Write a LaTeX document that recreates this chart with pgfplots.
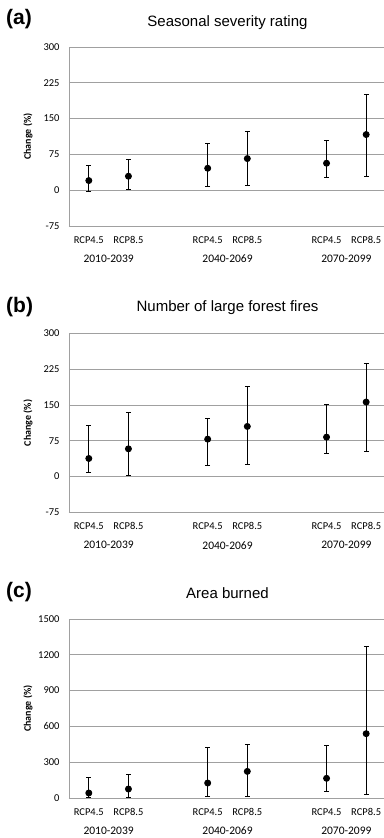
\documentclass[border=0pt]{standalone}
\usepackage{pgfplots}
\pgfplotsset{compat=1.18}
\usepackage{pgfplotstable}
\usepackage{fontspec}
\setmainfont{Carlito}
\newfontfamily\arial{Liberation Sans}
\definecolor{gridgray}{RGB}{160,160,160}

% x  y  ep  em
\pgfplotstableread{
x y ep em
0 20.2 32.2 23.0
1 29.3 34.2 28.6
3 46.0 52.4 39.0
4 66.3 57.2 55.8
6 56.5 48.2 30.7
7 116.6 83.0 88.0
}\dataA
\pgfplotstableread{
x y ep em
0 37.8 69.2 29.4
1 58.0 76.3 55.9
3 78.3 43.4 54.5
4 104.9 83.9 79.0
6 82.5 67.8 34.9
7 156.0 81.8 102.9
}\dataB
\pgfplotstableread{
x y ep em
0 41.9 134 36.3
1 75.4 126 69.8
3 125.7 301 114.7
4 223 227 212
6 165 276 109
7 539 735 508
}\dataC

\pgfplotsset{
  panel/.style={
    scale only axis,
    width=317pt, height=179pt,
    xmin=-0.5, xmax=7.5,
    axis y line*=left, axis x line*=bottom,
    axis line style={gridgray, line width=0.9pt},
    ymajorgrids, grid style={gridgray, line width=0.8pt},
    xtick={0,1,3,4,6,7},
    xticklabels={RCP4.5,RCP8.5,RCP4.5,RCP8.5,RCP4.5,RCP8.5},
    major tick length=0pt,
    tick style={draw=none},
    ticklabel style={font=\fontsize{10.5}{12}\selectfont},
    xticklabel style={anchor=north, text height=7pt, text depth=1pt, yshift=-7pt},
    yticklabel style={xshift=-6pt},
    /pgf/number format/assume math mode=true,
    /pgf/number format/set thousands separator={},
    ylabel={Change (\%)},
    ylabel style={font=\fontsize{10}{12}\selectfont\bfseries, at={(rel axis cs:0,0.5)}, anchor=south, yshift=33pt},
    clip=false,
  },
  ebar/.style={
    black, line width=0.9pt, mark=*, mark size=3pt, only marks,
    mark options={fill=black, draw=black},
    error bars/.cd, y dir=both, y explicit,
    error bar style={line width=0.9pt, black},
    error mark options={rotate=90, mark size=2.4pt, line width=0.9pt, black},
  },
}

\begin{document}
\begin{tikzpicture}
\begin{axis}[panel, at={(69pt,-226pt)}, anchor=south west,
  ymin=-75, ymax=300, ytick={-75,0,75,150,225,300}]
\addplot[ebar] table[x=x, y=y, y error plus=ep, y error minus=em] {\dataA};
\node[font=\fontsize{11.5}{13}\selectfont] at ({axis cs:0.5,0}|-{rel axis cs:0,0}) [yshift=-33pt] {2010-2039};
\node[font=\fontsize{11.5}{13}\selectfont] at ({axis cs:3.5,0}|-{rel axis cs:0,0}) [yshift=-33pt] {2040-2069};
\node[font=\fontsize{11.5}{13}\selectfont] at ({axis cs:6.5,0}|-{rel axis cs:0,0}) [yshift=-33pt] {2070-2099};
\end{axis}

\begin{axis}[panel, at={(69pt,-512.3pt)}, anchor=south west,
  ymin=-75, ymax=300, ytick={-75,0,75,150,225,300}]
\addplot[ebar] table[x=x, y=y, y error plus=ep, y error minus=em] {\dataB};
\node[font=\fontsize{11.5}{13}\selectfont] at ({axis cs:0.5,0}|-{rel axis cs:0,0}) [yshift=-33pt] {2010-2039};
\node[font=\fontsize{11.5}{13}\selectfont] at ({axis cs:3.5,0}|-{rel axis cs:0,0}) [yshift=-33pt] {2040-2069};
\node[font=\fontsize{11.5}{13}\selectfont] at ({axis cs:6.5,0}|-{rel axis cs:0,0}) [yshift=-33pt] {2070-2099};
\end{axis}

\begin{axis}[panel, at={(69pt,-798pt)}, anchor=south west,
  ymin=0, ymax=1500, ytick={0,300,600,900,1200,1500}]
\addplot[ebar] table[x=x, y=y, y error plus=ep, y error minus=em] {\dataC};
\node[font=\fontsize{11.5}{13}\selectfont] at ({axis cs:0.5,0}|-{rel axis cs:0,0}) [yshift=-33pt] {2010-2039};
\node[font=\fontsize{11.5}{13}\selectfont] at ({axis cs:3.5,0}|-{rel axis cs:0,0}) [yshift=-33pt] {2040-2069};
\node[font=\fontsize{11.5}{13}\selectfont] at ({axis cs:6.5,0}|-{rel axis cs:0,0}) [yshift=-33pt] {2070-2099};
\end{axis}

\node[font=\arial\fontsize{15}{17}\selectfont] at (227.5pt,-23pt) {Seasonal severity rating};
\node[font=\arial\bfseries\fontsize{21}{24}\selectfont, anchor=west, inner sep=0pt] at (6pt,-19pt) {(a)};
\node[font=\arial\fontsize{15}{17}\selectfont] at (227.5pt,-308pt) {Number of large forest fires};
\node[font=\arial\bfseries\fontsize{21}{24}\selectfont, anchor=west, inner sep=0pt] at (6pt,-307pt) {(b)};
\node[font=\arial\fontsize{15}{17}\selectfont] at (227.5pt,-593pt) {Area burned};
\node[font=\arial\bfseries\fontsize{21}{24}\selectfont, anchor=west, inner sep=0pt] at (6pt,-592pt) {(c)};

\pgfresetboundingbox
\path (0pt,0pt) rectangle (383pt,-838pt);
\end{tikzpicture}
\end{document}
